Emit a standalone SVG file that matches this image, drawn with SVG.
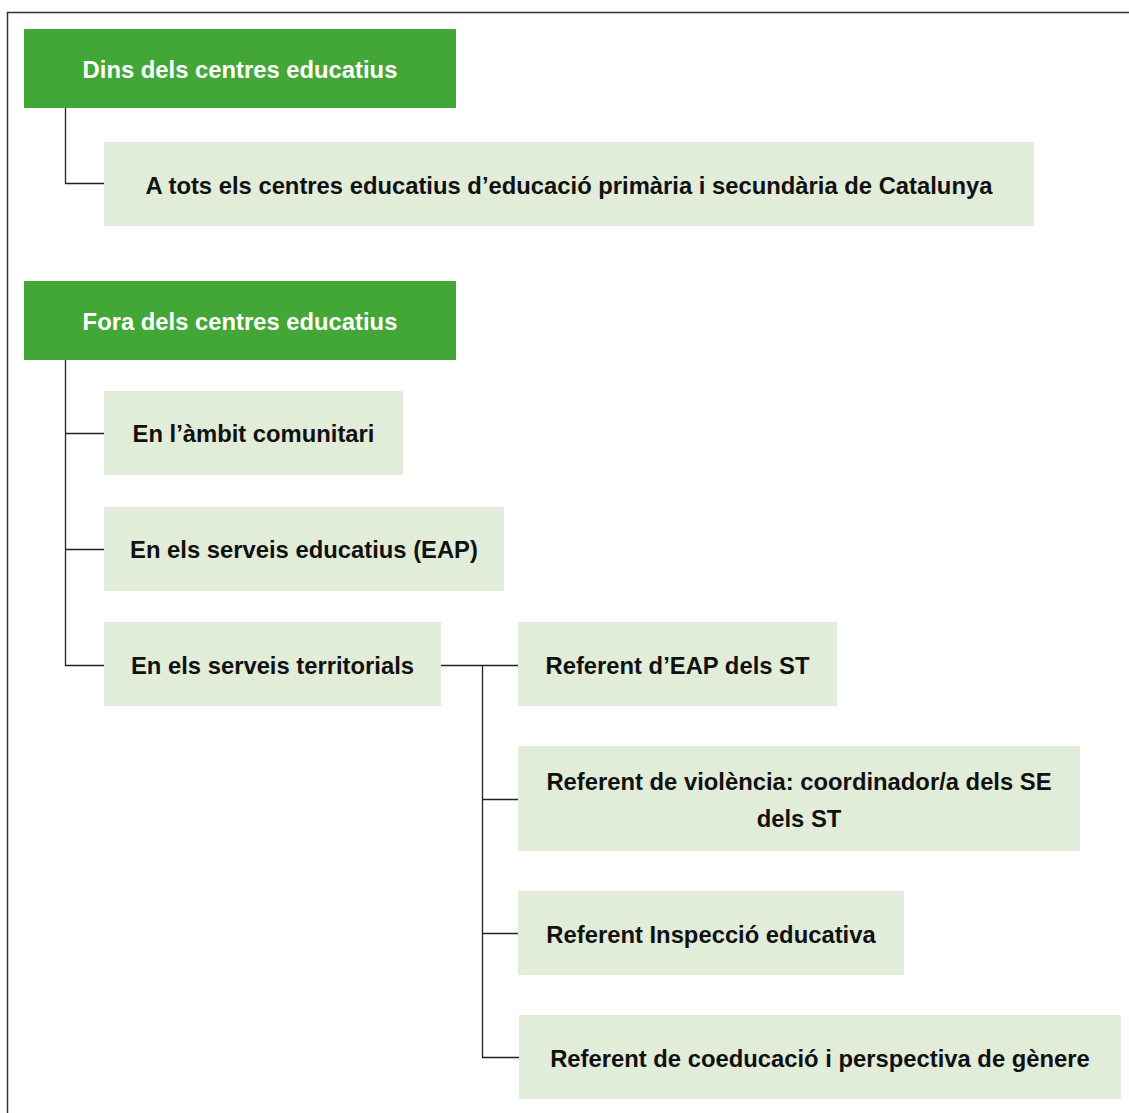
<svg xmlns="http://www.w3.org/2000/svg" width="1129" height="1113" viewBox="0 0 1129 1113">
<style>
.g{fill:#42a737}
.l{fill:#e1ecd9}
.t{font-family:"Liberation Sans",Arial,sans-serif;font-weight:bold;font-size:23.8px;text-anchor:middle;fill:#111}
.w{fill:#fff}
.c{fill:none;stroke:#222;stroke-width:1.3}
</style>
<rect width="1129" height="1113" fill="#fff"/>
<path d="M7.5,1113 V12.5 H1129" fill="none" stroke="#333" stroke-width="1.5"/>
<g id="connectors">
<path class="c" d="M65.5,108 V183.5 H104"/>
<path class="c" d="M65.5,360 V665.5 H104 M65.5,433.5 H104 M65.5,549.5 H104"/>
<path class="c" d="M441,665.5 H518 M482.5,665.5 V1057.5 H519 M482.5,799.5 H518 M482.5,933.5 H518"/>
</g>
<g id="dins"><rect class="g" x="24" y="29" width="432" height="79"/><text class="t w" x="240" y="78">Dins dels centres educatius</text></g>
<g id="tots"><rect class="l" x="104" y="142" width="930" height="84"/><text class="t" x="569" y="194">A tots els centres educatius d’educació primària i secundària de Catalunya</text></g>
<g id="fora"><rect class="g" x="24" y="281" width="432" height="79"/><text class="t w" x="240" y="330">Fora dels centres educatius</text></g>
<g id="comunitari"><rect class="l" x="104" y="391" width="299" height="84"/><text class="t" x="253.5" y="442">En l’àmbit comunitari</text></g>
<g id="eap"><rect class="l" x="104" y="507" width="400" height="84"/><text class="t" x="304" y="558">En els serveis educatius (EAP)</text></g>
<g id="territorials"><rect class="l" x="104" y="622" width="337" height="84"/><text class="t" x="272.5" y="674">En els serveis territorials</text></g>
<g id="ref-eap"><rect class="l" x="518" y="622" width="319" height="84"/><text class="t" x="677.5" y="674">Referent d’EAP dels ST</text></g>
<g id="ref-violencia"><rect class="l" x="518" y="746" width="562" height="105"/><text class="t" x="799" y="790">Referent de violència: coordinador/a dels SE</text><text class="t" x="799" y="827">dels ST</text></g>
<g id="ref-inspeccio"><rect class="l" x="518" y="891" width="386" height="84"/><text class="t" x="711" y="943">Referent Inspecció educativa</text></g>
<g id="ref-coeducacio"><rect class="l" x="519" y="1015" width="602" height="84"/><text class="t" x="820" y="1067">Referent de coeducació i perspectiva de gènere</text></g>
</svg>
